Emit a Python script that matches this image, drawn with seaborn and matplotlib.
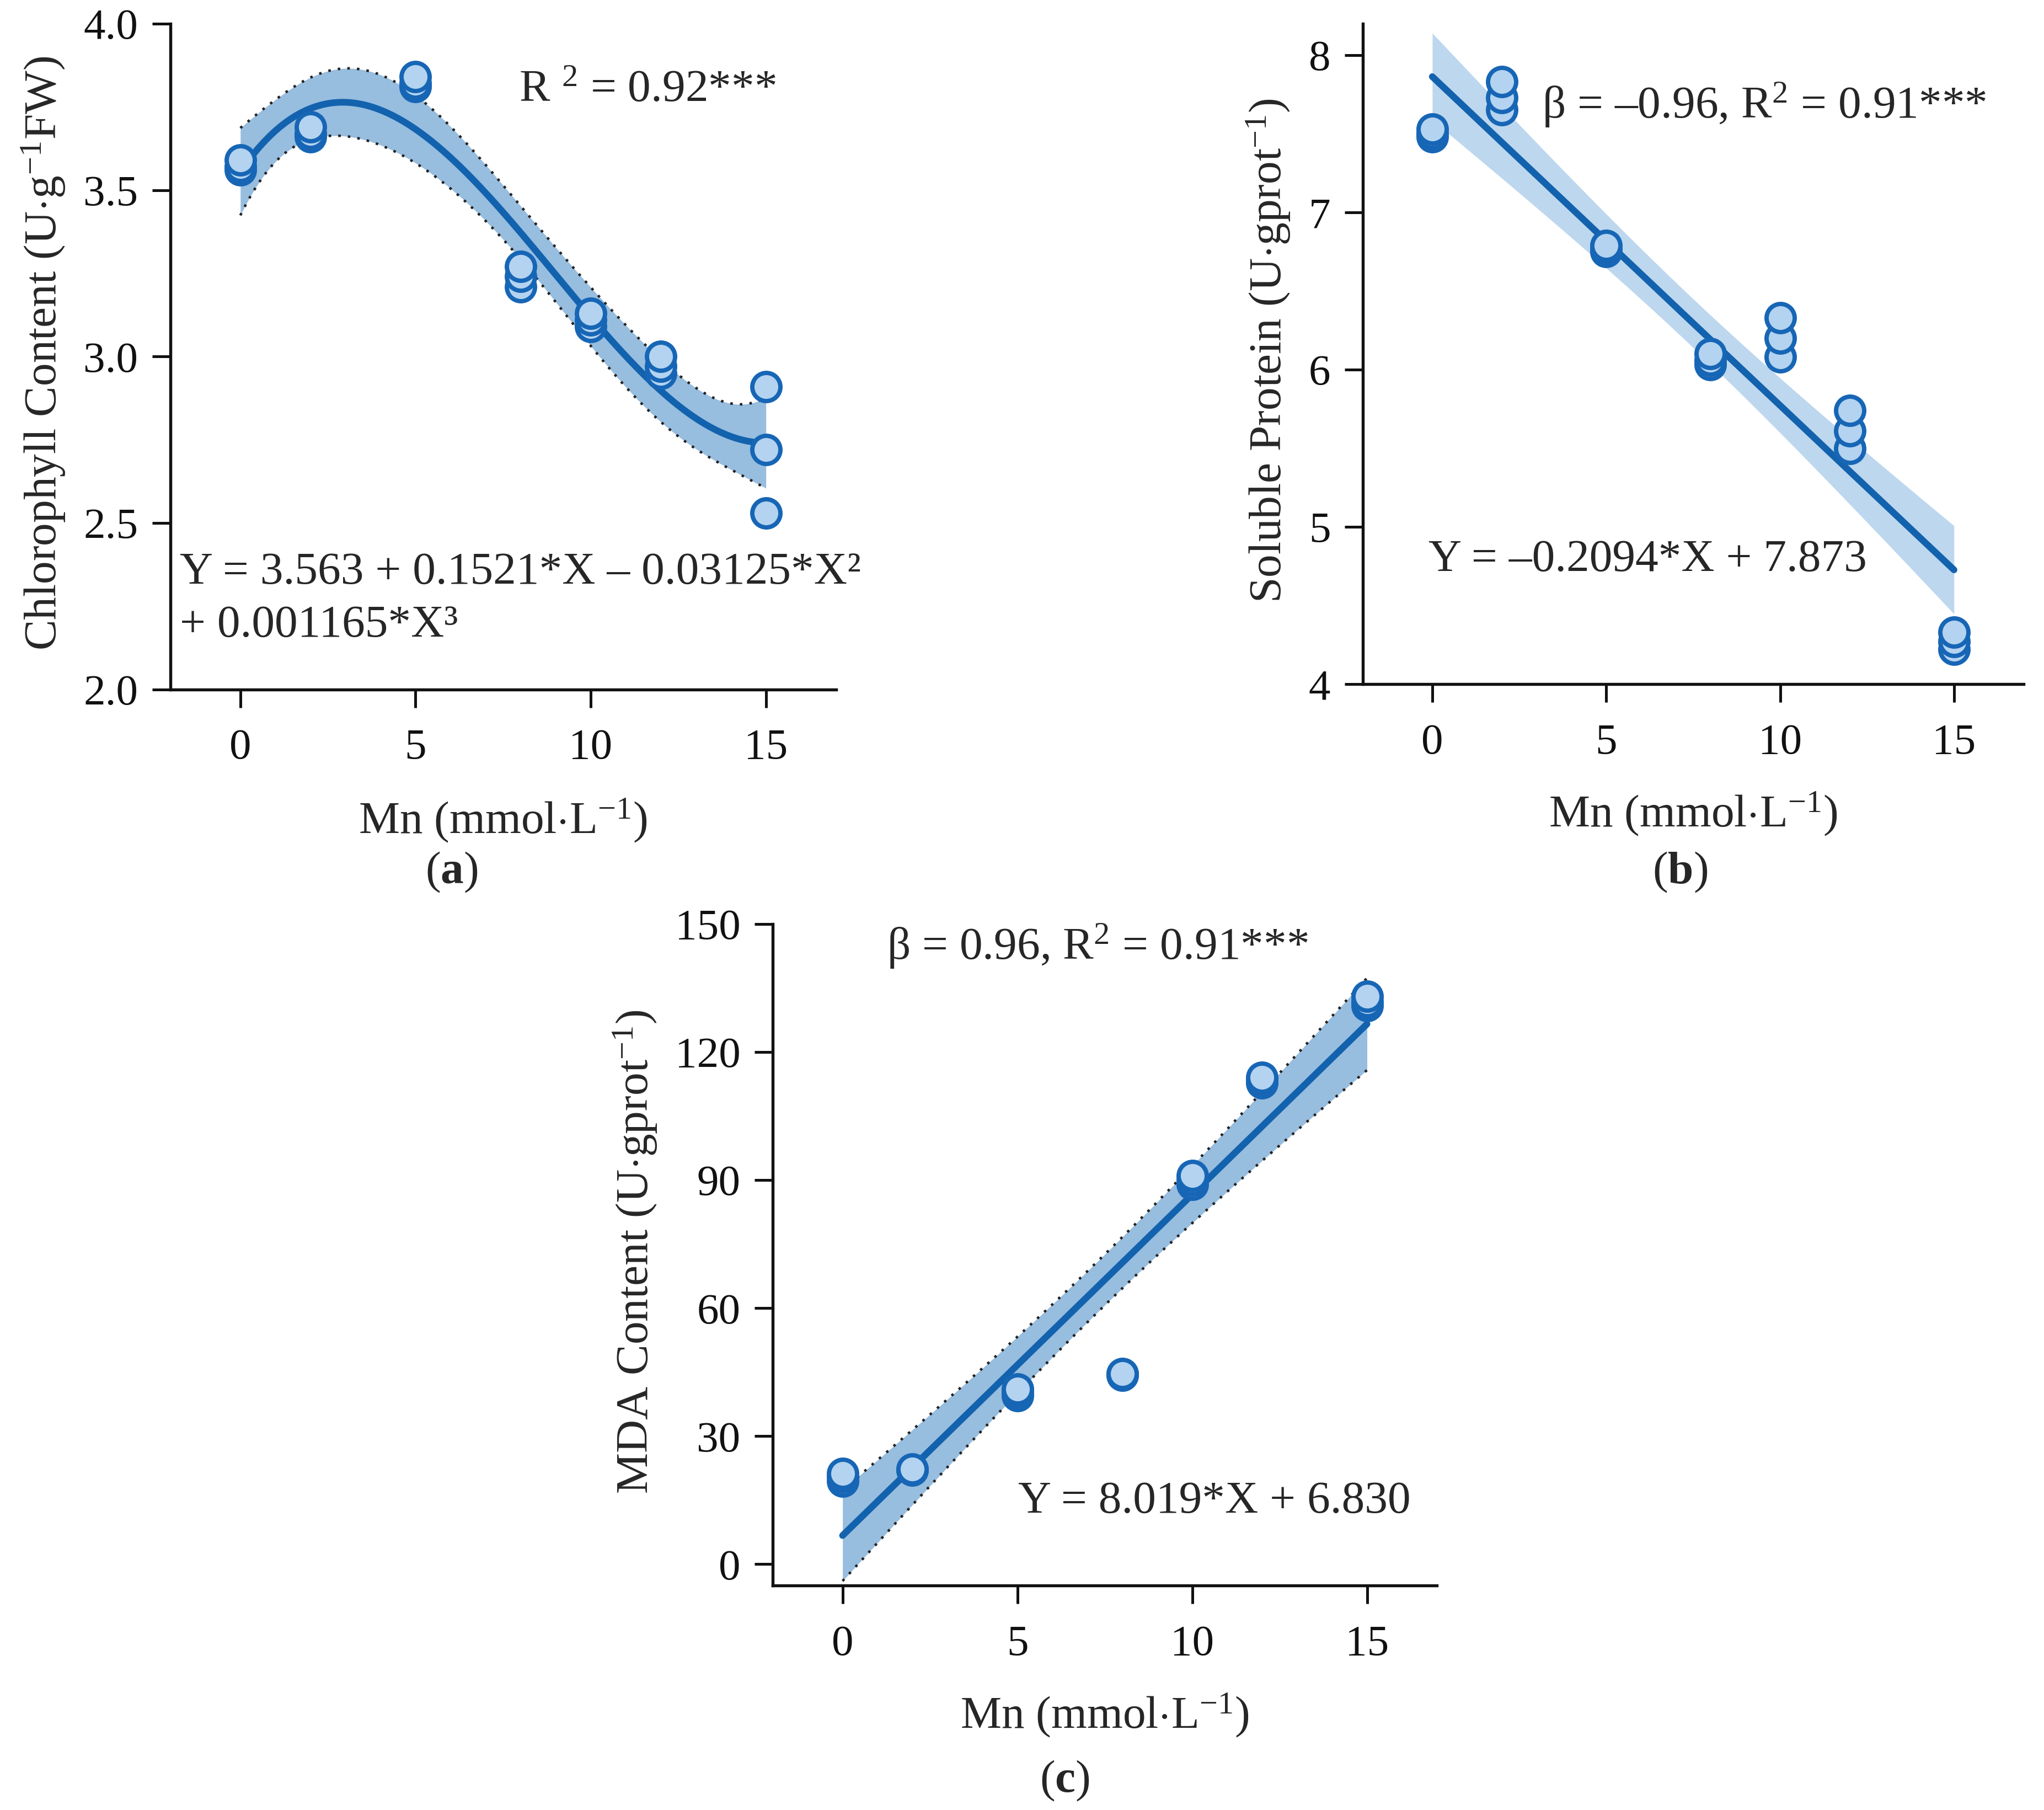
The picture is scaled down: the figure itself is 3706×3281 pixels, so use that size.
import numpy as np
import pandas as pd
import matplotlib
matplotlib.use("Agg")
import matplotlib.pyplot as plt
import seaborn as sns

# Mn levels (3 replicates each)
mn_levels = [0, 2, 5, 8, 10, 12, 15]

chlorophyll = [3.56, 3.57, 3.59,
               3.66, 3.67, 3.69,
               3.81, 3.82, 3.84,
               3.21, 3.24, 3.27,
               3.09, 3.11, 3.13,
               2.95, 2.97, 3.00,
               2.53, 2.72, 2.91]

protein = [7.48, 7.50, 7.53,
           7.65, 7.73, 7.83,
           6.75, 6.77, 6.79,
           6.03, 6.06, 6.10,
           6.08, 6.20, 6.33,
           5.50, 5.61, 5.74,
           4.22, 4.27, 4.33]

mda = [19.5, 20.5, 21.2,
       22.0, 22.2, 22.3,
       39.5, 40.3, 41.0,
       44.3, 44.5, 44.6,
       89.0, 90.0, 91.0,
       112.8, 113.3, 114.0,
       130.8, 131.8, 133.0]

sns.set_style("ticks")
plt.rcParams["font.family"] = ["Liberation Serif", "DejaVu Serif"]
plt.rcParams["mathtext.fontset"] = "custom"
plt.rcParams["mathtext.rm"] = "Liberation Serif"
plt.rcParams["mathtext.it"] = "Liberation Serif:italic"
plt.rcParams["mathtext.bf"] = "Liberation Serif:bold"

LINE = "#1262ae"
EDGE = "#1766b6"
FACE = "#b3d3f0"
BAND_DARK = "#97bddf"
BAND_LIGHT = "#bdd7ee"
FS = 20
TFS = 19


def fit_band(x, y, order, grid, t=2.1):
    X = np.vander(x, order + 1)
    beta = np.linalg.lstsq(X, y, rcond=None)[0]
    resid = y - X @ beta
    s2 = resid @ resid / (len(y) - order - 1)
    cov = s2 * np.linalg.inv(X.T @ X)
    G = np.vander(grid, order + 1)
    yhat = G @ beta
    se = np.sqrt(np.sum((G @ cov) * G, axis=1))
    return yhat, yhat - t * se, yhat + t * se


def panel(ax, y, order, band_color, dotted, ylim, yticks, ylabel, ylab_x):
    df = pd.DataFrame({"x": np.repeat(mn_levels, 3).astype(float), "y": y})
    grid = np.linspace(0, 15, 200)
    yhat, lo, hi = fit_band(df["x"].values, df["y"].values, order, grid)
    ax.fill_between(grid, lo, hi, color=band_color, lw=0, zorder=1)
    if dotted:
        ax.plot(grid, lo, color="#222222", lw=1.1, ls=(0, (1, 2.8)), zorder=2)
        ax.plot(grid, hi, color="#222222", lw=1.1, ls=(0, (1, 2.8)), zorder=2)
    sns.lineplot(x=grid, y=yhat, ax=ax, color=LINE, lw=2.9, zorder=3)
    sns.scatterplot(data=df, x="x", y="y", ax=ax, s=150, color=FACE,
                    edgecolor=EDGE, linewidth=1.9, zorder=4, legend=False)
    ax.set_xlim(-2, 17)
    ax.set_ylim(*ylim)
    ax.set_xticks([0, 5, 10, 15])
    ax.set_yticks(yticks)
    sns.despine(ax=ax)
    for s in ["left", "bottom"]:
        ax.spines[s].set_linewidth(1.3)
        ax.spines[s].set_color("#111111")
    ax.tick_params(direction="out", length=8, width=1.2, labelsize=TFS,
                   colors="#111111", pad=6)
    ax.tick_params(axis="x", pad=9)
    ax.set_xlabel(r"Mn (mmol$\cdot$L$^{-1}$)", fontsize=FS)
    ax.xaxis.set_label_coords(0.5, -0.197)
    ax.xaxis.label.set_va("center")
    ax.set_ylabel(ylabel, fontsize=FS)
    ax.yaxis.set_label_coords(ylab_x, 0.505)
    ax.yaxis.label.set_va("center")


fig = plt.figure(figsize=(3706 / 300, 3281 / 300), dpi=300)
ax_a = fig.add_axes([0.0833, 0.619, 0.3257, 0.368])
ax_b = fig.add_axes([0.6667, 0.622, 0.3233, 0.365])
ax_c = fig.add_axes([0.378, 0.124, 0.325, 0.3655])

panel(ax_a, chlorophyll, 3, BAND_DARK, True, (2.0, 4.0), [2.0, 2.5, 3.0, 3.5, 4.0],
      r"Chlorophyll Content (U$\cdot$g$^{-1}$FW)", -0.191)
ax_a.yaxis.set_major_formatter(matplotlib.ticker.FormatStrFormatter("%.1f"))
panel(ax_b, protein, 1, BAND_LIGHT, False, (4.0, 8.2), [4, 5, 6, 7, 8],
      r"Soluble Protein (U$\cdot$gprot$^{-1}$)", -0.143)
panel(ax_c, mda, 1, BAND_DARK, True, (-5, 150), [0, 30, 60, 90, 120, 150],
      r"MDA Content (U$\cdot$gprot$^{-1}$)", -0.207)

# annotations
ax_a.text(7.95, 3.80, r"R $^{2}$ = 0.92***", fontsize=FS, va="center")
ax_a.text(-1.72, 2.35, "Y = 3.563 + 0.1521*X \u2013 0.03125*X\u00b2", fontsize=FS, va="center")
ax_a.text(-1.72, 2.19, "+ 0.001165*X\u00b3", fontsize=FS, va="center")

ax_b.text(3.15, 7.68, "\u03b2 = \u20130.96, R$^{2}$ = 0.91***", fontsize=FS, va="center")
ax_b.text(-0.11, 4.79, "Y = \u20130.2094*X + 7.873", fontsize=FS, va="center")

ax_c.text(1.27, 144.8, "\u03b2 = 0.96, R$^{2}$ = 0.91***", fontsize=FS, va="center")
ax_c.text(5.02, 14.6, "Y = 8.019*X + 6.830", fontsize=FS, va="center")

# panel letters
fig.text(0.221, 0.518, r"($\mathbf{a}$)", fontsize=FS, ha="center", va="center")
fig.text(0.822, 0.518, r"($\mathbf{b}$)", fontsize=FS, ha="center", va="center")
fig.text(0.521, 0.016, r"($\mathbf{c}$)", fontsize=FS, ha="center", va="center")

fig.savefig("out.png", dpi=300, facecolor="white")
